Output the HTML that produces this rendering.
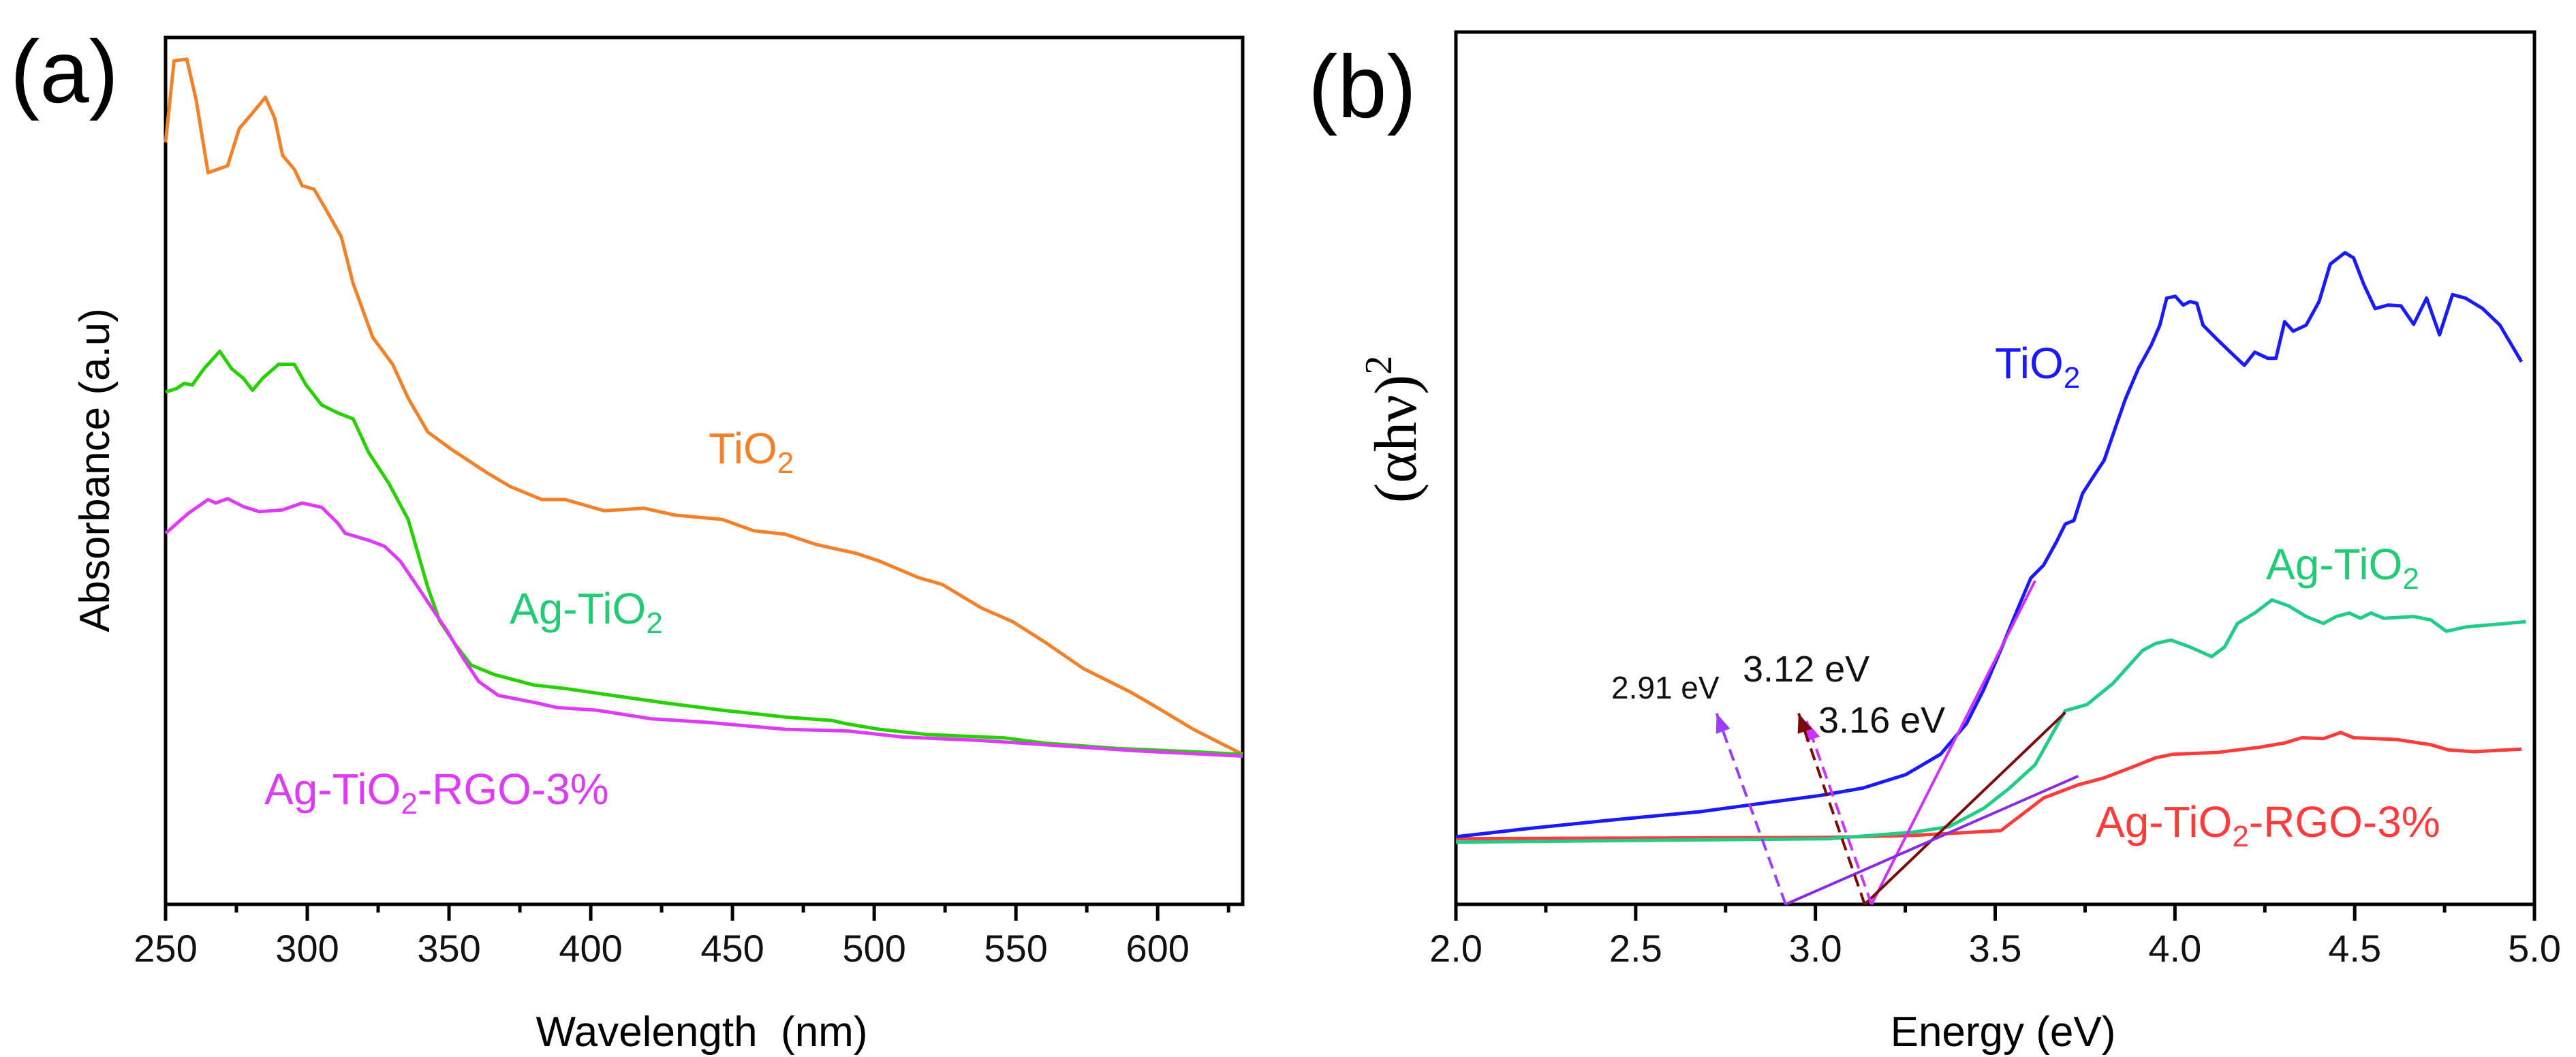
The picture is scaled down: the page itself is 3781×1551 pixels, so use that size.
<!DOCTYPE html>
<html><head><meta charset="utf-8">
<style>
html,body{margin:0;padding:0;background:#fff;}
svg{display:block;font-family:"Liberation Sans",sans-serif;}
</style></head>
<body>
<svg id="chart" width="3781" height="1551" viewBox="0 0 3781 1551" xmlns="http://www.w3.org/2000/svg">
<text x="15" y="150" font-size="130">(a)</text>
<text x="1920" y="172" font-size="130">(b)</text>
<text transform="translate(160,690) rotate(-90)" text-anchor="middle" font-size="62">Absorbance (a.u)</text>
<text x="1030" y="1535" text-anchor="middle" font-size="62" xml:space="preserve">Wavelength  (nm)</text>
<text x="2940" y="1535" text-anchor="middle" font-size="62">Energy (eV)</text>
<text transform="translate(2078,630) rotate(-90)" text-anchor="middle" font-size="88" font-family="Liberation Serif, serif">(αhν)<tspan dy="-36" font-size="56">2</tspan></text>
<g id="gA"></g>
<g id="gB"></g>
</svg>
<script>
// ---- Panel (a) data ----
const aTicks = [250,300,350,400,450,500,550,600];
const aTiO2W = [250,253,257.5,260.8,265,271.9,276,280.2,285.2,288.5,291.3,295.4,298.2,302.4,306.5,312,316.2,323.1,330.1,335.6,342.5,350.8,363.3,371.6,382.7,391,404.8,418.7,429.8,446.4,457.5,468.6,479.6,493.5,501.8,515.6,524,537.8,548.9,560,573.8,590.4,598.8,612.6,630];
const aTiO2V = [87.9,97.3,97.5,92.8,84.4,85.2,89.5,91.1,93.1,90.7,86.4,84.8,82.9,82.5,80.2,77,71.6,65.4,62.3,58.4,54.5,52.5,49.8,48.2,46.7,46.7,45.4,45.7,44.9,44.4,43.1,42.7,41.5,40.5,39.6,37.7,36.9,34.2,32.6,30.3,27.2,24.5,22.9,20.2,17.3];
const aAgW = [250,253.9,256.6,259.4,263.6,269.1,273.3,277.4,280.7,284.3,289.9,295.4,299.6,305.1,310.7,316.2,321.7,328.7,335.6,342.5,346.7,352.2,357.8,366.1,379.9,391,407.6,427,446.4,468.6,485.2,490.7,501.8,518.4,546.1,560,584.9,612.6,630];
const aAgV = [59.1,59.5,60.1,59.9,61.8,63.8,61.8,60.7,59.3,60.7,62.3,62.3,59.9,57.6,56.7,56,52.1,48.6,44.4,36.6,32.7,30,27.6,26.5,25.3,24.9,24.1,23.2,22.4,21.6,21.2,20.8,20.2,19.6,19.2,18.6,18,17.6,17.3];
const aRgoW = [250,258,265,267.7,271.9,277.4,283,291.3,298.2,305.1,310.7,313.4,321.7,327.3,332.8,338.4,343.9,349.4,355,360.5,367.4,379.9,388.2,402.1,421.5,440.9,468.6,490.7,510.1,537.8,565.5,593.2,630];
const aRgoV = [42.8,45.1,46.7,46.3,46.8,45.9,45.3,45.5,46.3,45.8,44,42.8,42,41.3,39.6,36.9,34.2,31.5,28.4,25.7,24.1,23.3,22.7,22.4,21.4,21,20.2,20,19.3,18.9,18.3,17.7,17.1];
// ---- Panel (b) data ----
const bTicks = [2.0,2.5,3.0,3.5,4.0,4.5,5.0];
const bTiO2E = [2,2.199,2.438,2.678,2.845,3.013,3.132,3.252,3.348,3.42,3.468,3.516,3.563,3.599,3.635,3.671,3.695,3.719,3.743,3.779,3.803,3.839,3.862,3.898,3.934,3.958,3.977,4.001,4.023,4.042,4.061,4.078,4.114,4.162,4.193,4.222,4.258,4.281,4.305,4.329,4.365,4.401,4.432,4.473,4.497,4.526,4.557,4.593,4.629,4.664,4.7,4.736,4.772,4.808,4.856,4.904,4.964];
const bTiO2V = [7.75,8.68,9.69,10.62,11.55,12.48,13.33,14.88,17.21,20.7,24.6,29.2,33.9,37.4,38.9,41.6,43.6,44,47.1,49.4,50.9,55.2,57.9,61.4,64.1,66.4,69.5,69.7,68.7,69.1,68.9,66.4,64.9,63,61.8,63.3,62.6,62.6,66.8,65.7,66.4,69.1,73.4,74.7,74.1,71,68.3,68.7,68.6,66.5,69.5,65.3,69.9,69.5,68.3,66.4,62.2];
const bAgE = [2,3.037,3.276,3.372,3.468,3.539,3.611,3.695,3.755,3.827,3.91,3.946,3.989,4.042,4.102,4.138,4.174,4.222,4.27,4.317,4.365,4.413,4.449,4.485,4.516,4.545,4.581,4.664,4.712,4.755,4.808,4.976];
const bAgV = [7.13,7.52,8.29,8.91,11,13.3,16,22.2,22.9,25.3,29.1,29.9,30.3,29.5,28.4,29.5,32.2,33.4,34.9,34.2,33,32.2,33,33.4,32.8,33.4,32.8,33,32.6,31.3,31.8,32.4];
const bRgoE = [2,3.037,3.276,3.516,3.635,3.731,3.803,3.898,3.946,3.994,4.114,4.234,4.305,4.353,4.413,4.461,4.497,4.617,4.712,4.76,4.832,4.964];
const bRgoV = [7.52,7.67,7.91,8.45,12.2,13.7,14.5,16,16.8,17.2,17.4,18,18.5,19.1,19,19.7,19.1,18.9,18.3,17.7,17.5,17.8];
const fitTiO2 = [[3.156,0],[3.611,37.1]];
const fitAg = [[3.137,0],[3.695,22.0]];
const fitRgo = [[2.917,0],[3.731,14.7]];
const arrRgo = [[2.917,0],[2.725,21.9]];
const arrAg = [[3.137,0],[2.953,21.9]];
const arrTi = [[3.156,0],[2.975,21.0]];

const NS="http://www.w3.org/2000/svg";
function mk(parent,tag,attrs){const e=document.createElementNS(NS,tag);for(const k in attrs)e.setAttribute(k,attrs[k]);parent.appendChild(e);return e;}

const A={x0:243,x1:1824,y0:1327,y1:55,dmin:250,dmax:630};
const ax=w=>A.x0+(w-A.dmin)/(A.dmax-A.dmin)*(A.x1-A.x0);
const ay=v=>A.y0-v/100*(A.y0-A.y1);
const B={x0:2137,x1:3720,y0:1327,y1:47,dmin:2,dmax:5};
const bx=e=>B.x0+(e-B.dmin)/(B.dmax-B.dmin)*(B.x1-B.x0);
const by=v=>B.y0-v/100*(B.y0-B.y1);

function series(g,X,Y,xs,ys,color,name,w){
  const d=xs.map((x,i)=>(i?'L':'M')+X(x).toFixed(1)+','+Y(ys[i]).toFixed(1)).join('');
  const p=mk(g,'path',{d:d,fill:'none',stroke:color,'stroke-width':w||5,'stroke-linejoin':'round'});
  
  
  return p;
}
function frame(g,P,X,ticks,minorStep,fmt,name){
  const r=mk(g,'rect',{x:P.x0,y:P.y1,width:P.x1-P.x0,height:P.y0-P.y1,fill:'none',stroke:'#000','stroke-width':5});
  
  
  for(let v=P.dmin;v<=P.dmax+1e-9;v+=minorStep){
    const x=X(v);
    const isMajor=ticks.some(t=>Math.abs(t-v)<1e-6);
    const t=mk(g,'line',{x1:x,x2:x,y1:P.y0,y2:P.y0+(isMajor?24:12),stroke:'#000','stroke-width':5});
    
    
  }
  ticks.forEach(v=>{
    const t=mk(g,'text',{x:X(v),y:P.y0+84,'text-anchor':'middle','font-size':56,fill:'#111'});
    t.textContent=fmt(v);
    
    
  });
}
const gA=document.getElementById('gA');
frame(gA,A,ax,aTicks,25,v=>String(v),'panel-a');
series(gA,ax,ay,aTiO2W,aTiO2V,'#f2822a','tio2-absorbance-line');
series(gA,ax,ay,aAgW,aAgV,'#28d000','ag-tio2-absorbance-line');
series(gA,ax,ay,aRgoW,aRgoV,'#dc3cf6','ag-tio2-rgo-absorbance-line');

const gB=document.getElementById('gB');
frame(gB,B,bx,bTicks,0.25,v=>v.toFixed(1),'panel-b');
series(gB,bx,by,bRgoE,bRgoV,'#ff3c3c','ag-tio2-rgo-tauc-line');
series(gB,bx,by,bAgE,bAgV,'#22cc88','ag-tio2-tauc-line');
series(gB,bx,by,bTiO2E,bTiO2V,'#1a1aff','tio2-tauc-line');
series(gB,bx,by,fitTiO2.map(p=>p[0]),fitTiO2.map(p=>p[1]),'#cc33ff','tio2-tangent-line',4);
series(gB,bx,by,fitAg.map(p=>p[0]),fitAg.map(p=>p[1]),'#7a0a0a','ag-tio2-tangent-line',4);
series(gB,bx,by,fitRgo.map(p=>p[0]),fitRgo.map(p=>p[1]),'#8a2be2','ag-tio2-rgo-tangent-line',4);
function arrow(arr,color,name){
  const p=series(gB,bx,by,arr.map(q=>q[0]),arr.map(q=>q[1]),color,name,4);
  p.setAttribute('stroke-dasharray','18,10');
  const x1=bx(arr[0][0]),y1=by(arr[0][1]),x2=bx(arr[1][0]),y2=by(arr[1][1]);
  const ang=Math.atan2(y2-y1,x2-x1),L=28,W=11;
  const bxp=x2-L*Math.cos(ang),byp=y2-L*Math.sin(ang);
  const h=mk(gB,'polygon',{points:`${x2},${y2} ${bxp+W*Math.sin(ang)},${byp-W*Math.cos(ang)} ${bxp-W*Math.sin(ang)},${byp+W*Math.cos(ang)}`,fill:color});
  
  
}
arrow(arrRgo,'#9b3cff','rgo-gap-arrow');
arrow(arrTi,'#cc33ff','tio2-gap-arrow');
arrow(arrAg,'#7a0a0a','ag-gap-arrow');
</script>
<svg style="position:absolute;left:0;top:0" width="3781" height="1551">
<g font-family="Liberation Sans, sans-serif">
<text x="1040" y="680" font-size="64" fill="#f2822a">TiO<tspan dy="14" font-size="44">2</tspan></text>
<text x="748" y="915" font-size="64" fill="#22cc77">Ag-TiO<tspan dy="14" font-size="44">2</tspan></text>
<text x="388" y="1180" font-size="64" fill="#dc3cf6">Ag-TiO<tspan dy="14" font-size="44">2</tspan><tspan dy="-14">-RGO-3%</tspan></text>
<text x="2928" y="555" font-size="64" fill="#1a1aff">TiO<tspan dy="14" font-size="44">2</tspan></text>
<text x="3326" y="850" font-size="64" fill="#22cc77">Ag-TiO<tspan dy="14" font-size="44">2</tspan></text>
<text x="3076" y="1228" font-size="64" fill="#ff3c3c">Ag-TiO<tspan dy="14" font-size="44">2</tspan><tspan dy="-14">-RGO-3%</tspan></text>
<text x="2365" y="1025" font-size="46" fill="#111">2.91 eV</text>
<text x="2558" y="1000" font-size="54" fill="#111">3.12 eV</text>
<text x="2669" y="1075" font-size="54" fill="#111">3.16 eV</text>
</g>
</svg>
</body></html>
